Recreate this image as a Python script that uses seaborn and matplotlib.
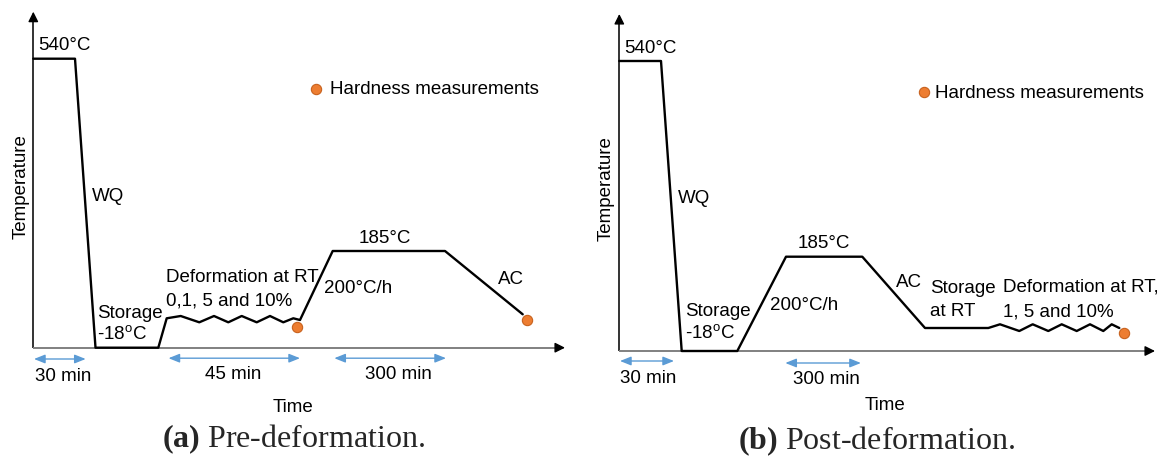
import matplotlib
matplotlib.use("Agg")
import matplotlib.pyplot as plt
import seaborn as sns
import pandas as pd

# ---------------- data (schematic time / temperature units) ----------------
# (a) Pre-deformation schedule
time_a = [0, 41.7, 62.2, 125, 133.4, 147.4, 166, 180.7, 195, 208.4, 223.4,
          236.7, 250, 260, 266.7, 299.4, 411.7, 489.4]
temp_a = [289, 289, 0, 0, 29.4, 31.7, 25.4, 31.7, 25.4, 31.7, 25.4,
          31.7, 25.4, 29.4, 27.7, 96.7, 96.7, 33.4]
hard_time_a = [264, 494]
hard_temp_a = [20.4, 27.7]
span_labels_a = ["30 min", "45 min", "300 min"]
span_start_a = [0.7, 135.2, 301]
span_end_a = [52.4, 266.7, 412.7]

# (b) Post-deformation schedule
time_b = [0, 41.7, 62.4, 118, 166.7, 243, 305.7, 369, 380.7, 400, 413.4,
          429, 442.4, 457.4, 470.7, 484, 492.4, 500]
temp_b = [290, 290, 0, 0, 94.3, 94.3, 23, 23, 26.7, 20, 26.7,
          20, 26.7, 20, 26.7, 20, 26.7, 23]
hard_time_b = [504.7]
hard_temp_b = [18.3]
span_labels_b = ["30 min", "300 min"]
span_start_b = [0.7, 166]
span_end_b = [54.7, 241.6]

# ---------------- style ----------------
sns.set_theme(style="white")
plt.rcParams["font.family"] = ["Liberation Sans", "DejaVu Sans"]
plt.rcParams["mathtext.fontset"] = "custom"
plt.rcParams["mathtext.rm"] = "Liberation Serif"
plt.rcParams["mathtext.bf"] = "Liberation Serif:bold"

FS = 13.5
CAP_FS = 23
DOT = "#ED7D31"
DOT_EDGE = "#C8621E"
BLUE = "#5B9BD5"

fig = plt.figure(figsize=(11.67, 4.57), dpi=100)
W, H = 1167.0, 457.0


def make_axes(left_px, width_px, ox, oy):
    ax = fig.add_axes([left_px / W, 0, width_px / W, 1])
    ax.set_xlim(left_px - ox, left_px + width_px - ox)
    ax.set_ylim(-(H - oy), oy)
    ax.axis("off")
    return ax


ax_a = make_axes(0, 583.5, 33.3, 347.7)
ax_b = make_axes(583.5, 583.5, 619.3, 351.0)


def axes_arrows(ax, xend, ytop):
    ax.plot([0, 0], [0, ytop - 6], color="#111111", lw=1.2, solid_capstyle="butt")
    ax.plot([0, xend - 6], [0, 0], color="#808080", lw=1.4, solid_capstyle="butt")
    style = "-|>,head_length=0.5,head_width=0.25"
    ax.annotate("", xy=(0, ytop), xytext=(0, ytop - 9),
                arrowprops=dict(arrowstyle=style, color="black", lw=1.0,
                                shrinkA=0, shrinkB=0, mutation_scale=12))
    ax.annotate("", xy=(xend, 0), xytext=(xend - 9, 0),
                arrowprops=dict(arrowstyle=style, color="black", lw=1.0,
                                shrinkA=0, shrinkB=0, mutation_scale=12))


def spans(ax, starts, ends, ys):
    for s, e, y in zip(starts, ends, ys):
        ax.annotate("", xy=(e, y), xytext=(s, y), annotation_clip=False,
                    arrowprops=dict(arrowstyle="<|-|>,head_length=0.55,head_width=0.22",
                                    color=BLUE, lw=1.0, shrinkA=0, shrinkB=0,
                                    mutation_scale=12))


def curve(ax, t, T, ht, hT):
    df = pd.DataFrame({"time": t, "temp": T})
    sns.lineplot(data=df, x="time", y="temp", sort=False, estimator=None,
                 color="black", lw=1.7, ax=ax)
    sns.scatterplot(x=ht, y=hT, s=55, color=DOT, edgecolor=DOT_EDGE,
                    linewidth=0.8, zorder=5, ax=ax)
    ax.set_xlabel("")
    ax.set_ylabel("")


def txt(ax, x, y, s, ha="left", **kw):
    ax.text(x, y, s, ha=ha, va="center", fontsize=FS, color="black", **kw)


deg18 = r"-18$^{\mathregular{o}}$C"

# ---------------- panel (a) ----------------
axes_arrows(ax_a, 531.7, 336.0)
curve(ax_a, time_a, temp_a, hard_time_a, hard_temp_a)
spans(ax_a, span_start_a, span_end_a, [-11.3, -10.5, -10.5])
txt(ax_a, 5, 302.7, "540°C")
txt(ax_a, 58.5, 151.4, "WQ")
txt(ax_a, 64, 34.7, "Storage")
txt(ax_a, 64, 12.7, deg18)
txt(ax_a, 132.7, 69.8, "Deformation at RT")
txt(ax_a, 132.7, 47.2, "0,1, 5 and 10%")
txt(ax_a, 291, 59.4, "200°C/h")
txt(ax_a, 351.2, 109.4, "185°C", ha="center")
txt(ax_a, 477.7, 67.7, "AC", ha="center")
sns.scatterplot(x=[282.4], y=[258.5], s=55, color=DOT, edgecolor=DOT_EDGE,
                linewidth=0.8, ax=ax_a)
txt(ax_a, 296.3, 257.8, "Hardness measurements")
txt(ax_a, 1.7, -29.0, span_labels_a[0])
txt(ax_a, 200.0, -26.7, span_labels_a[1], ha="center")
txt(ax_a, 364.7, -26.7, span_labels_a[2], ha="center")
txt(ax_a, 259.4, -60.0, "Time", ha="center")
txt(ax_a, -12.5, 161.3, "Temperature", ha="center", rotation=90)
ax_a.text(259.7, -91.6, r"$\mathbf{(a)}$ Pre-deformation.", ha="center", va="center",
          fontsize=CAP_FS, family="Liberation Serif")

# ---------------- panel (b) ----------------
axes_arrows(ax_b, 535.7, 337.0)
curve(ax_b, time_b, temp_b, hard_time_b, hard_temp_b)
spans(ax_b, span_start_b, span_end_b, [-10.0, -12.0])
txt(ax_b, 4.7, 302.7, "540°C")
txt(ax_b, 58.8, 152.4, "WQ")
txt(ax_b, 65.6, 39.3, "Storage")
txt(ax_b, 65.6, 17.7, deg18)
txt(ax_b, 205.0, 107.5, "185°C", ha="center")
txt(ax_b, 151.0, 46.0, "200°C/h")
txt(ax_b, 289.4, 68.3, "AC", ha="center")
txt(ax_b, 311.0, 62.7, "Storage")
txt(ax_b, 311.0, 39.3, "at RT")
txt(ax_b, 383.7, 63.7, "Deformation at RT,")
txt(ax_b, 383.7, 39.3, "1, 5 and 10%")
sns.scatterplot(x=[304.7], y=[258.7], s=55, color=DOT, edgecolor=DOT_EDGE,
                linewidth=0.8, ax=ax_b)
txt(ax_b, 315.7, 257.7, "Hardness measurements")
txt(ax_b, 0.7, -27.3, span_labels_b[0])
txt(ax_b, 207.0, -28.3, span_labels_b[1], ha="center")
txt(ax_b, 265.4, -55.0, "Time", ha="center")
txt(ax_b, -13.1, 162.7, "Temperature", ha="center", rotation=90)
ax_b.text(257.2, -90.7, r"$\mathbf{(b)}$ Post-deformation.", ha="center", va="center",
          fontsize=CAP_FS, family="Liberation Serif")

fig.savefig("out.png", dpi=100, facecolor="white")
